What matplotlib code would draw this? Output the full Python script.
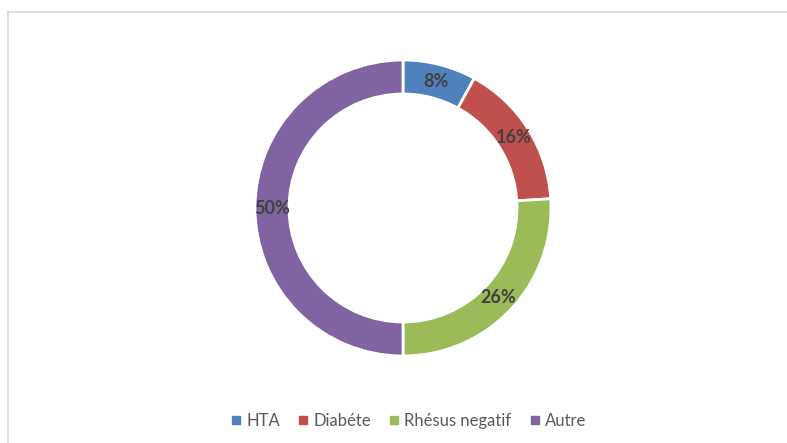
import matplotlib
matplotlib.use("Agg")
import matplotlib.pyplot as plt
from matplotlib.lines import Line2D
import numpy as np

categories = ["HTA", "Diabéte", "Rhésus negatif", "Autre"]
values = [8, 16, 26, 50]
colors = ["#4F81BD", "#C0504D", "#9BBB59", "#8064A2"]

plt.rcParams['font.family'] = ['Lato', 'DejaVu Sans']

W, H = 787, 443
fig = plt.figure(figsize=(W / 100, H / 100), dpi=100)

cx, cy, r = 403, 208, 148
ax = fig.add_axes([(cx - r) / W, (H - cy - r) / H, 2 * r / W, 2 * r / H])
width = 34 / 148
wedges, _ = ax.pie(values, colors=colors, startangle=90, counterclock=False,
                   radius=1, wedgeprops=dict(width=width, edgecolor='white', linewidth=2))
total = sum(values)
start = 90.0
for v in values:
    ang = np.deg2rad(start - v / total * 360 / 2)
    rr = 1 - width / 2
    ax.text(rr * np.cos(ang), rr * np.sin(ang), f"{v}%", ha='center', va='center',
            fontsize=13, fontweight='bold', color='#404040')
    start -= v / total * 360
ax.set_xlim(-1, 1)
ax.set_ylim(-1, 1)
ax.set_aspect('equal')
ax.axis('off')

handles = [Line2D([], [], marker='s', linestyle='none', markersize=6,
                  markerfacecolor=c, markeredgecolor=c) for c in colors]
fig.legend(handles, categories, loc='center', bbox_to_anchor=(407 / W, 1 - 421 / H),
           ncol=4, frameon=False, fontsize=12, labelcolor='#595959',
           handletextpad=0.1, columnspacing=0.9, handlelength=1.0)

fig.add_artist(Line2D([7.5 / W, 7.5 / W], [0, 1 - 11.5 / H], transform=fig.transFigure,
                      color='#D9D9D9', linewidth=1.2))
fig.add_artist(Line2D([7.5 / W, 1], [1 - 11.5 / H, 1 - 11.5 / H], transform=fig.transFigure,
                      color='#D9D9D9', linewidth=1.2))

fig.savefig("out.png", dpi=100, facecolor='white')
